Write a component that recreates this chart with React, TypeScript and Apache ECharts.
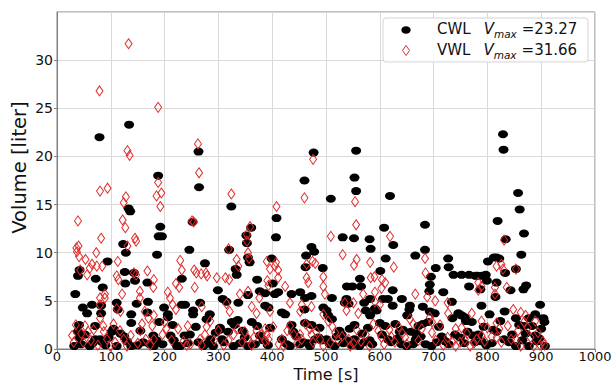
import React, { useEffect, useRef } from "react";
import * as echarts from "echarts";

// [time (s), volume (liter)]
const cwlPoints: [number, number][] = [
  [32,0.3],[34,5.7],[39,7.6],[42,8.2],[39,1.8],[41,2.5],[42,1.2],[45,0.5],[48,4.3],[52,1.5],[56,3.7],[61,0.3],[65,4.6],[66,0.6],[71,2.4],[71,1.0],[72,7.3],[79,22.0],[80,1.0],[82,4.5],[82,3.7],[84,0.7],[85,6.4],[90,0.4],[94,9.1],[96,1.2],[102,1.8],[105,2.1],
  [111,4.8],[113,4.1],[111,0.3],[118,1.6],[123,10.9],[125,1.3],[126,8.0],[127,6.8],[128,10.0],[130,0.8],[133,14.6],[134,23.3],[136,14.3],[138,3.6],[138,2.7],[138,0.3],[143,7.9],[145,7.1],[148,4.7],[150,0.4],[155,1.9],[160,0.7],[168,6.9],[168,3.8],[169,4.9],[172,0.5],[179,1.4],[180,0.3],[185,0.9],[186,9.8],[188,18.0],[189,11.7],[190,2.8],[192,12.7],[195,11.7],[196,0.5],[199,4.3],
  [206,3.6],[206,3.3],[211,1.4],[215,2.5],[217,0.9],[223,0.3],[229,0.3],[232,7.3],[232,4.6],[238,4.6],[237,1.4],[243,0.6],[246,10.3],[247,1.5],[252,13.2],[253,4.0],[253,3.6],[258,2.3],[263,20.5],[264,16.8],[263,0.7],[266,4.8],[272,0.3],[275,8.9],[278,3.1],[281,0.6],[284,3.6],[285,1.0],[290,0.3],[295,1.7],[299,6.1],
  [303,2.2],[303,2.0],[307,1.0],[310,0.7],[308,5.2],[315,4.9],[318,1.8],[320,10.3],[324,14.8],[325,2.8],[328,0.3],[330,2.5],[332,8.3],[334,7.7],[336,3.0],[337,4.8],[340,0.6],[345,1.9],[349,1.2],[352,11.8],[353,11.0],[355,9.5],[355,5.6],[355,0.3],[358,9.0],[361,12.6],[362,2.8],[368,0.5],[372,7.2],[372,2.4],[377,6.0],[377,1.4],[384,0.9],[387,5.8],[387,4.5],[392,0.4],[393,4.3],[396,2.2],[399,9.4],
  [401,6.8],[405,5.7],[407,11.6],[408,13.6],[411,5.9],[418,3.8],[418,1.0],[424,3.6],[427,0.5],[433,0.3],[436,5.7],[436,2.5],[439,1.8],[445,1.3],[452,5.9],[452,0.5],[458,0.7],[460,17.5],[460,4.1],[461,5.3],[461,2.7],[462,8.5],[463,9.7],[466,0.6],[470,0.3],[473,10.6],[473,5.5],[473,2.5],[477,20.4],[478,10.1],[480,1.0],[486,1.2],[488,2.2],[492,0.9],[494,8.4],[495,4.3],
  [501,4.0],[501,1.0],[504,3.5],[507,0.5],[509,15.6],[511,5.3],[511,3.1],[516,0.3],[520,1.3],[525,1.9],[529,1.5],[531,11.6],[532,0.6],[535,4.8],[538,5.2],[538,0.9],[539,6.5],[542,4.7],[544,2.1],[548,0.4],[549,6.5],[552,11.5],[553,17.8],[553,2.5],[553,1.0],[556,20.6],[556,16.4],[562,0.3],[563,7.3],[565,6.5],[567,1.6],[571,4.8],[571,0.7],[574,4.0],[578,2.2],[581,11.4],[581,0.9],[582,5.2],[582,3.5],[583,10.4],[586,0.5],[591,4.2],[594,4.0],
  [600,2.7],[601,8.1],[604,1.5],[606,5.2],[608,12.6],[610,2.4],[611,9.4],[615,5.2],[615,1.0],[619,15.9],[621,0.7],[624,6.1],[624,4.5],[625,10.8],[629,2.6],[633,1.1],[637,1.8],[640,0.5],[641,5.2],[643,2.0],[650,0.3],[651,3.5],[655,4.1],[656,4.5],[658,1.8],[662,0.5],[666,9.7],[667,1.6],[667,1.0],[672,2.4],[676,1.3],[680,4.4],[680,2.6],[684,12.9],[684,10.3],[685,0.5],[690,2.8],[692,6.0],[693,6.7],[693,3.9],[695,7.5],[696,0.3],
  [702,3.7],[704,8.4],[706,0.7],[710,2.3],[715,1.3],[718,5.9],[722,0.8],[727,9.4],[728,8.5],[728,0.5],[734,4.9],[735,3.2],[737,7.7],[740,1.5],[746,3.7],[749,1.2],[752,7.7],[752,3.5],[757,0.6],[758,3.3],[760,2.9],[763,1.8],[766,7.7],[766,6.5],[771,2.8],[773,1.4],[777,0.7],[778,7.6],[782,7.6],[783,1.5],[787,6.2],[789,4.5],[789,0.8],[790,7.6],[793,2.3],[797,7.7],[798,0.4],[799,7.1],
  [801,9.1],[804,3.6],[808,0.6],[811,2.0],[812,9.5],[815,5.4],[817,9.5],[817,6.9],[817,1.8],[819,13.3],[822,9.4],[824,2.9],[829,22.3],[830,20.7],[831,1.0],[832,3.9],[833,7.9],[834,11.4],[840,0.7],[843,6.1],[846,1.5],[853,8.3],[853,3.2],[853,0.3],[857,16.2],[859,2.5],[860,14.5],[863,9.8],[865,0.9],[867,6.2],[868,12.0],[868,2.4],[871,1.6],[872,6.6],[877,3.2],[877,0.3],[883,2.4],[889,3.6],[889,1.4],[892,0.8],[896,1.1],[898,4.6],[900,2.1],[904,3.2],[906,2.8],[907,0.3],
];

const vwlPoints: [number, number][] = [
  [28,1.4],[31,0.7],[35,2.5],[36,10.5],[37,10.1],[39,13.3],[40,10.7],[41,9.6],[43,8.2],[45,1.6],[49,0.7],[52,2.4],[53,9.3],[56,7.7],[58,1.8],[61,8.4],[63,0.9],[65,8.8],[68,2.0],[73,10.0],[74,8.6],[76,0.4],[79,26.8],[80,16.4],[80,5.3],[80,4.6],[80,3.2],[82,11.5],[84,8.6],[86,2.4],[87,1.8],[89,5.7],[89,5.3],[93,1.0],[94,16.7],[99,0.3],
  [105,2.6],[108,0.7],[111,7.6],[111,4.2],[113,9.1],[114,7.2],[117,1.9],[118,3.9],[121,5.7],[122,13.4],[124,15.2],[124,1.0],[127,12.6],[128,15.8],[130,0.3],[131,20.6],[131,10.7],[133,31.7],[135,20.1],[137,1.4],[143,7.9],[145,11.5],[147,11.2],[147,7.7],[150,0.6],[154,6.0],[154,5.3],[155,1.9],[158,2.6],[163,3.9],[165,1.0],[168,8.1],[170,3.2],[173,0.4],[177,2.4],[179,6.4],[180,7.2],[180,3.5],[180,1.0],[185,15.9],[188,25.1],[188,17.3],[192,14.8],[194,16.2],[196,1.5],
  [200,2.8],[203,2.1],[206,5.9],[210,5.3],[213,0.9],[215,4.6],[221,6.8],[221,4.1],[225,2.1],[227,6.4],[229,9.2],[232,8.2],[235,0.8],[241,0.4],[243,2.4],[248,0.5],[251,13.3],[254,13.2],[255,8.2],[256,6.4],[259,7.9],[262,21.3],[264,18.3],[266,1.0],[268,7.8],[269,4.4],[269,0.4],[275,1.5],[277,7.9],[278,2.3],[279,7.6],[285,2.9],[292,0.9],[297,7.4],
  [300,1.9],[310,0.4],[313,7.4],[315,4.7],[319,10.4],[319,0.9],[320,7.2],[321,3.9],[324,16.1],[328,1.5],[334,9.3],[336,2.1],[337,8.6],[340,5.7],[344,0.7],[349,1.8],[353,11.9],[353,11.2],[355,10.0],[355,6.0],[355,1.1],[357,9.4],[359,12.7],[362,4.4],[362,0.4],[366,1.2],[371,3.7],[371,1.9],[376,5.3],[380,1.5],[387,0.8],[387,2.1],[390,9.1],[390,1.5],[391,7.1],[393,6.6],[393,1.0],[396,8.3],[396,3.9],
  [402,2.3],[405,8.6],[407,9.0],[408,14.8],[411,8.2],[411,7.4],[412,0.5],[418,1.0],[421,0.3],[424,6.5],[428,1.9],[433,4.8],[433,2.4],[440,1.5],[446,0.6],[452,3.9],[452,1.5],[455,4.6],[455,1.0],[460,15.7],[462,2.6],[464,8.8],[464,7.4],[467,6.9],[470,2.1],[473,4.4],[473,1.5],[475,9.1],[476,19.7],[476,0.7],[480,8.9],[482,1.8],[489,1.0],[495,7.5],[495,6.5],[495,3.6],[495,0.3],[498,5.7],
  [504,2.9],[508,0.7],[509,11.7],[512,2.3],[517,1.7],[523,0.9],[530,1.3],[531,9.8],[535,4.8],[538,4.0],[542,1.0],[545,0.3],[551,4.8],[551,0.6],[552,8.7],[554,15.3],[556,12.9],[557,9.3],[557,2.0],[560,3.7],[565,0.8],[569,5.7],[574,1.5],[581,0.3],[582,9.0],[583,7.4],[588,2.6],[590,7.5],[591,5.9],[591,4.9],[597,1.9],
  [600,4.6],[603,6.3],[603,1.2],[604,7.2],[608,0.5],[610,6.9],[618,2.0],[619,11.7],[621,1.3],[626,8.5],[628,0.7],[635,2.3],[642,1.6],[647,1.2],[650,0.5],[656,3.1],[662,2.6],[666,5.7],[672,0.9],[678,2.1],[684,9.4],[685,7.9],[688,5.4],[693,3.3],[697,2.8],[697,1.7],
  [703,5.0],[704,0.9],[712,2.5],[718,0.4],[726,4.8],[726,1.2],[727,3.7],[735,0.7],[741,2.1],[741,0.3],[749,0.7],[752,2.2],[758,1.0],[762,1.6],[768,0.3],[771,3.7],[775,0.6],[780,1.0],[783,6.9],[783,6.1],[789,6.5],[789,2.9],[789,1.4],[795,0.8],
  [800,2.2],[808,1.3],[814,6.4],[814,5.7],[817,8.6],[817,2.7],[817,1.2],[822,2.1],[826,8.8],[826,0.7],[829,8.3],[831,11.3],[836,6.4],[838,2.4],[844,1.0],[848,4.1],[853,8.3],[853,1.0],[857,1.9],[862,3.8],[862,0.3],[868,2.8],[871,3.5],[875,2.2],[880,1.2],[886,0.3],[889,2.9],[894,1.7],[898,0.4],[903,0.8],[906,0.4],
];

const seriesNames = ["CWL", "VWL"];
const vmaxLabels = ["23.27", "31.66"];
const xLimits = [0, 1000];
const xStep = 100;
const yLimits = [0, 35];
const yStep = 5;

const FONT = "DejaVu Sans";
const ELLIPSE = "path://M0,5A5,5 0 1,0 10,5A5,5 0 1,0 0,5Z";
const RED = "#e02a2a";

export default function App() {
  const ref = useRef<HTMLDivElement>(null);
  useEffect(() => {
    if (!ref.current) return;
    const chart = echarts.init(ref.current, undefined, { renderer: "svg" });
    const legendText = (i: number) =>
      `{n|${seriesNames[i]}}{v|V}{s|max}{e|=${vmaxLabels[i]}}`;
    const rich = {
      n: { fontFamily: FONT, fontSize: 15, fill: "#111", lineHeight: 20 },
      v: { fontFamily: FONT, fontSize: 15, fontStyle: "italic", fill: "#111", lineHeight: 20, padding: [0, 0, 0, 13] },
      s: { fontFamily: FONT, fontSize: 10.5, fontStyle: "italic", fill: "#111", lineHeight: 12, verticalAlign: "bottom" },
      e: { fontFamily: FONT, fontSize: 15, fill: "#111", lineHeight: 20, padding: [0, 0, 0, 5] },
    };
    chart.setOption({
      animation: false,
      backgroundColor: "#fff",
      textStyle: { fontFamily: FONT },
      grid: {
        left: 57, right: 21, top: 12, bottom: 34,
        containLabel: false,
        outerBoundsMode: "none",
        show: true, borderColor: "#808080", borderWidth: 1,
      },
      xAxis: {
        type: "value",
        min: xLimits[0],
        max: xLimits[1],
        interval: xStep,
        name: "Time [s]",
        nameLocation: "middle",
        nameGap: 17,
        nameMoveOverlap: false,
        nameTextStyle: { fontFamily: FONT, fontSize: 16, color: "#111", lineHeight: 16 },
        axisLine: { show: true, lineStyle: { color: "#808080", width: 1 } },
        axisTick: { show: true, length: 3, lineStyle: { color: "#808080" } },
        axisLabel: { fontFamily: FONT, fontSize: 13, lineHeight: 13, color: "#111", margin: 1, formatter: (v: number) => String(v) },
        splitLine: { show: true, lineStyle: { color: "#d9d9d9", width: 1 } },
      },
      yAxis: {
        type: "value",
        min: yLimits[0],
        max: yLimits[1],
        interval: yStep,
        name: "Volume [liter]",
        nameLocation: "middle",
        nameGap: 28,
        nameMoveOverlap: false,
        nameRotate: 90,
        nameTextStyle: { fontFamily: FONT, fontSize: 19.5, color: "#111", padding: [0, 0, 0, 26] },
        axisLine: { show: true, lineStyle: { color: "#808080", width: 1 } },
        axisTick: { show: true, length: 3, lineStyle: { color: "#808080" } },
        axisLabel: { fontFamily: FONT, fontSize: 14, color: "#111", margin: 4, showMaxLabel: false },
        splitLine: { show: true, lineStyle: { color: "#d9d9d9", width: 1 } },
      },
      series: [
        {
          name: seriesNames[0],
          type: "scatter",
          data: cwlPoints,
          symbol: ELLIPSE,
          symbolSize: [10, 8],
          itemStyle: { color: "#000", opacity: 1 },
          z: 2,
        },
        {
          name: seriesNames[1],
          type: "scatter",
          data: vwlPoints,
          symbol: "diamond",
          symbolSize: [7, 10],
          itemStyle: { color: "rgba(255,255,255,0)", borderColor: RED, borderWidth: 1, opacity: 1 },
          z: 3,
        },
      ],
      graphic: [
        {
          type: "rect",
          shape: { x: 383, y: 18, width: 205, height: 44, r: 3 },
          style: { fill: "rgba(255,255,255,0.85)", stroke: "#d5d5d5", lineWidth: 1 },
          z: 10,
        },
        {
          type: "ellipse",
          shape: { cx: 406, cy: 30, rx: 4.7, ry: 3.8 },
          style: { fill: "#000" },
          z: 11,
        },
        {
          type: "polygon",
          shape: { points: [[406, 45.5], [409.5, 50.5], [406, 55.5], [402.5, 50.5]] },
          style: { fill: "none", stroke: RED, lineWidth: 1 },
          z: 11,
        },
        {
          type: "text",
          x: 437,
          y: 29,
          style: { text: legendText(0), rich, verticalAlign: "middle", align: "left" },
          z: 11,
        },
        {
          type: "text",
          x: 437,
          y: 50,
          style: { text: legendText(1), rich, verticalAlign: "middle", align: "left" },
          z: 11,
        },
      ],
    });
    return () => chart.dispose();
  }, []);
  return (
    <div
      ref={ref}
      style={{ position: "fixed", left: 0, top: 0, width: 616, height: 383 }}
    />
  );
}
